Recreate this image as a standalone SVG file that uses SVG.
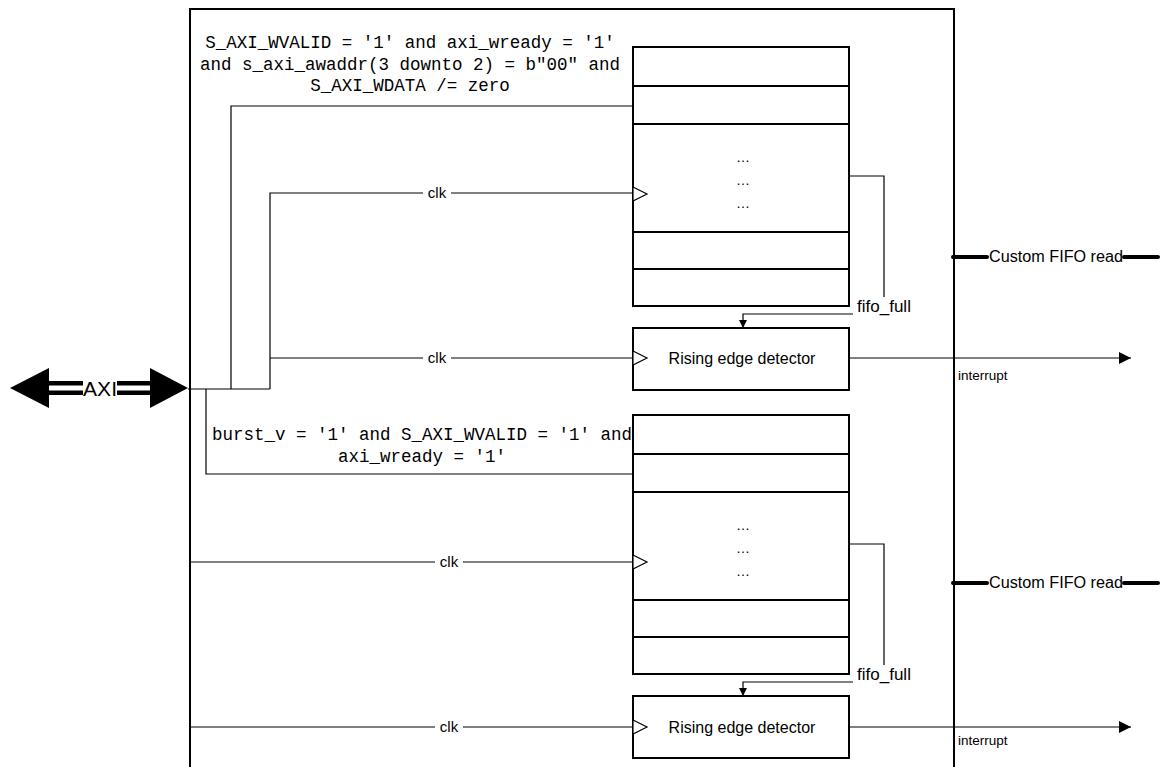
<svg xmlns="http://www.w3.org/2000/svg" width="1161" height="767" viewBox="0 0 1161 767">
<style>
.box{fill:#fff;stroke:#000;stroke-width:2}
.div{stroke:#000;stroke-width:2}
.wire{fill:none;stroke:#000;stroke-width:1.2}
.bus{fill:none;stroke:#000;stroke-width:4;stroke-linecap:round}
.tri{fill:#fff;stroke:#000;stroke-width:1.2}
.mono{font-family:"Liberation Mono","DejaVu Sans Mono",monospace;font-size:17.5px;fill:#000}
.sans{font-family:"Liberation Sans",Arial,sans-serif;fill:#000}
.lbl{font-family:"Liberation Sans",Arial,sans-serif;font-size:15px;fill:#000}
.bg{fill:#fff}
</style>
<defs>
<marker id="ah" viewBox="0 0 10 10" refX="10" refY="5" markerWidth="8" markerHeight="8" markerUnits="userSpaceOnUse" orient="auto">
<path d="M0,0 L10,5 L0,10 Z" fill="#000"/>
</marker>
<marker id="ahl" viewBox="0 0 10 10" refX="10" refY="5" markerWidth="12" markerHeight="12" markerUnits="userSpaceOnUse" orient="auto">
<path d="M0,0 L10,5 L0,10 Z" fill="#000"/>
</marker>
</defs>

<g id="main-block">
<path d="M190,767 V9 H954 V767" fill="none" stroke="#000" stroke-width="2"/>
</g>

<g id="axi">
<polygon points="10,388 49,368 49,408" fill="#000"/>
<polygon points="188,388 150,368 150,408" fill="#000"/>
<rect x="48" y="381" width="35" height="4.5" fill="#000"/>
<rect x="48" y="390.5" width="35" height="4.5" fill="#000"/>
<rect x="117" y="381" width="34" height="4.5" fill="#000"/>
<rect x="117" y="390.5" width="34" height="4.5" fill="#000"/>
<text class="sans" x="100" y="396" font-size="21" text-anchor="middle" textLength="34" lengthAdjust="spacingAndGlyphs">AXI</text>
</g>

<g id="fifo-top">
<rect class="box" x="633" y="47" width="216" height="259"/>
<line class="div" x1="633" y1="86" x2="849" y2="86"/>
<line class="div" x1="633" y1="124" x2="849" y2="124"/>
<line class="div" x1="633" y1="232" x2="849" y2="232"/>
<line class="div" x1="633" y1="269" x2="849" y2="269"/>
<polygon class="tri" points="633,187 647,194 633,201"/>
<text class="sans" font-size="14" text-anchor="middle" x="743" y="162">…</text>
<text class="sans" font-size="14" text-anchor="middle" x="743" y="185">…</text>
<text class="sans" font-size="14" text-anchor="middle" x="743" y="208">…</text>
</g>

<g id="edge-top">
<rect class="box" x="633" y="328" width="216" height="62"/>
<polygon class="tri" points="633,351 647,358 633,365"/>
<text class="sans" font-size="16" text-anchor="middle" x="742" y="364">Rising edge detector</text>
</g>

<g id="fifo-bottom">
<rect class="box" x="633" y="415" width="216" height="259"/>
<line class="div" x1="633" y1="454" x2="849" y2="454"/>
<line class="div" x1="633" y1="492" x2="849" y2="492"/>
<line class="div" x1="633" y1="600" x2="849" y2="600"/>
<line class="div" x1="633" y1="637" x2="849" y2="637"/>
<polygon class="tri" points="633,555 647,562 633,569"/>
<text class="sans" font-size="14" text-anchor="middle" x="743" y="530">…</text>
<text class="sans" font-size="14" text-anchor="middle" x="743" y="553">…</text>
<text class="sans" font-size="14" text-anchor="middle" x="743" y="576">…</text>
</g>

<g id="edge-bottom">
<rect class="box" x="633" y="696" width="216" height="62"/>
<polygon class="tri" points="633,720 647,727 633,734"/>
<text class="sans" font-size="16" text-anchor="middle" x="742" y="733">Rising edge detector</text>
</g>

<g id="conditions">
<text class="mono" text-anchor="middle" x="410" y="48">S_AXI_WVALID = '1' and axi_wready = '1'</text>
<text class="mono" text-anchor="middle" x="410" y="70">and s_axi_awaddr(3 downto 2) = b"00" and</text>
<text class="mono" text-anchor="middle" x="410" y="91">S_AXI_WDATA /= zero</text>
<text class="mono" text-anchor="middle" x="422" y="440">burst_v = '1' and S_AXI_WVALID = '1' and</text>
<text class="mono" text-anchor="middle" x="422" y="462">axi_wready = '1'</text>
</g>

<g id="connectors">
<path class="wire" d="M188,389 H270"/>
<path class="wire" d="M231,389 V106 H633"/>
<path class="wire" d="M270,389 V193 H633"/>
<path class="wire" d="M270,358 H633"/>
<path class="wire" d="M206,389 V474 H633"/>
<path class="wire" d="M190,562 H633"/>
<path class="wire" d="M190,727 H633"/>
<path class="wire" d="M849,176 H884 V314 H743 V328" marker-end="url(#ah)"/>
<path class="wire" d="M849,544 H884 V682 H743 V696" marker-end="url(#ah)"/>
<path class="wire" d="M849,358 H1131" marker-end="url(#ahl)"/>
<path class="wire" d="M849,727 H1131" marker-end="url(#ahl)"/>
<line class="bus" x1="953" y1="257" x2="987" y2="257"/>
<line class="bus" x1="1124" y1="257" x2="1158" y2="257"/>
<line class="bus" x1="953" y1="583" x2="987" y2="583"/>
<line class="bus" x1="1124" y1="583" x2="1158" y2="583"/>
<rect class="bg" x="423" y="185" width="28" height="16"/>
<text class="lbl" text-anchor="middle" x="437" y="198">clk</text>
<rect class="bg" x="423" y="350" width="28" height="16"/>
<text class="lbl" text-anchor="middle" x="437" y="363">clk</text>
<rect class="bg" x="435" y="554" width="28" height="16"/>
<text class="lbl" text-anchor="middle" x="449" y="567">clk</text>
<rect class="bg" x="435" y="719" width="28" height="16"/>
<text class="lbl" text-anchor="middle" x="449" y="732">clk</text>
<rect class="bg" x="853" y="297" width="63" height="19"/>
<text class="sans" font-size="17" text-anchor="middle" x="884" y="312">fifo_full</text>
<rect class="bg" x="853" y="665" width="63" height="19"/>
<text class="sans" font-size="17" text-anchor="middle" x="884" y="680">fifo_full</text>
<text class="sans" font-size="16" x="989" y="262" textLength="134" lengthAdjust="spacingAndGlyphs">Custom FIFO read</text>
<text class="sans" font-size="16" x="989" y="588" textLength="134" lengthAdjust="spacingAndGlyphs">Custom FIFO read</text>
<text class="sans" font-size="13.5" x="958" y="380">interrupt</text>
<text class="sans" font-size="13.5" x="958" y="745">interrupt</text>
</g>
</svg>
